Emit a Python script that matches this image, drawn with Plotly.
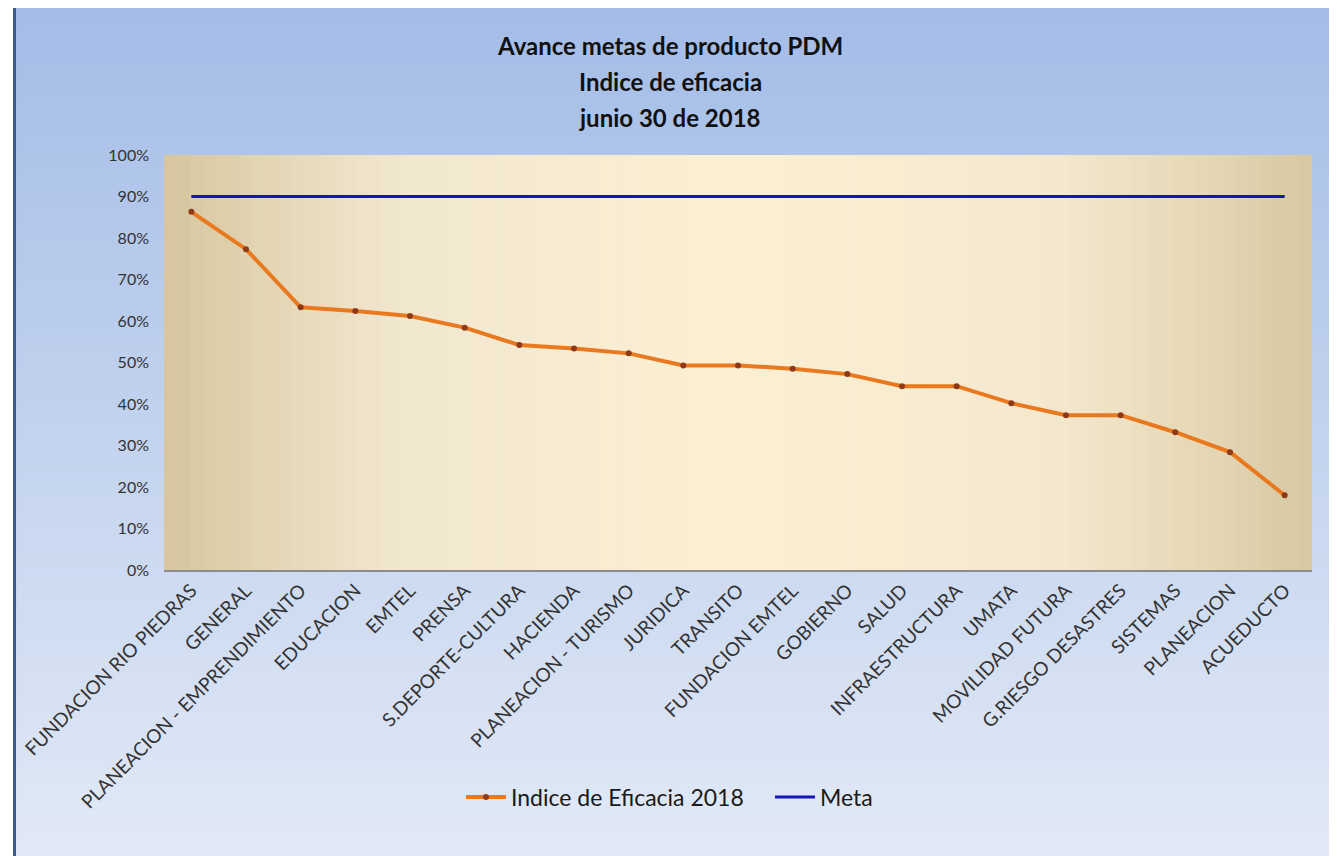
import plotly.graph_objects as go

# ---------------- data ----------------
categories = [
    "FUNDACION RIO PIEDRAS", "GENERAL", "PLANEACION - EMPRENDIMIENTO", "EDUCACION",
    "EMTEL", "PRENSA", "S.DEPORTE-CULTURA", "HACIENDA", "PLANEACION - TURISMO",
    "JURIDICA", "TRANSITO", "FUNDACION EMTEL", "GOBIERNO", "SALUD",
    "INFRAESTRUCTURA", "UMATA", "MOVILIDAD FUTURA", "G.RIESGO DESASTRES",
    "SISTEMAS", "PLANEACION", "ACUEDUCTO",
]
indice_eficacia_2018 = [
    0.863, 0.773, 0.633, 0.624, 0.612, 0.584, 0.542, 0.534, 0.522, 0.493,
    0.493, 0.485, 0.472, 0.443, 0.443, 0.402, 0.373, 0.373, 0.332, 0.284, 0.180,
]
meta = [
    0.90, 0.90, 0.90, 0.90, 0.90, 0.90, 0.90, 0.90, 0.90, 0.90,
    0.90, 0.90, 0.90, 0.90, 0.90, 0.90, 0.90, 0.90, 0.90, 0.90, 0.90,
]
title_lines = ["Avance metas de producto PDM", "Indice de eficacia", "junio 30 de 2018"]

# ---------------- geometry (screen pixels) ----------------
OFF = 8                      # page body margin
W, H = 1337 - OFF, 856 - OFF  # figure size so it ends at the window edge
L, R, T, B = 160, 1312, 155, 570   # plot area in screen pixels


def px(x):
    return (x - L) / (R - L)


def py(y):
    return (B - y) / (B - T)


def hex2rgb(h):
    h = h.lstrip("#")
    return tuple(int(h[i:i + 2], 16) for i in (0, 2, 4))


def lerp_color(stops, t):
    for (t0, c0), (t1, c1) in zip(stops[:-1], stops[1:]):
        if t0 <= t <= t1:
            f = 0 if t1 == t0 else (t - t0) / (t1 - t0)
            a, b = hex2rgb(c0), hex2rgb(c1)
            return "rgb(%d,%d,%d)" % tuple(round(a[i] + (b[i] - a[i]) * f) for i in range(3))
    return stops[-1][1]


shapes = []

# outer blue gradient background (vertical)
blue_stops = [(0.0, "#A3BCE7"), (0.5, "#C3D3EE"), (1.0, "#E3EAF6")]
top_px, bot_px, left_px, right_px = 6, 870, 11, 1332
n = 60
for i in range(n):
    y0 = top_px + (bot_px - top_px) * i / n
    y1 = top_px + (bot_px - top_px) * (i + 1) / n + 1
    c = lerp_color(blue_stops, (i + 0.5) / n)
    shapes.append(dict(type="rect", xref="paper", yref="paper", layer="below",
                       x0=px(left_px), x1=px(right_px), y0=py(y1), y1=py(y0),
                       fillcolor=c, line=dict(width=0)))

# plot-area tan gradient (horizontal)
tan_stops = [(0.0, "#D6C59E"), (0.08, "#E2D4B2"), (0.2, "#F1E7CF"), (0.5, "#FCEFD3"),
             (0.78, "#F3E8CF"), (0.9, "#E6D8B6"), (1.0, "#D7C8A2")]
m = 90
for i in range(m):
    x0 = L + (R - L) * i / m
    x1 = L + (R - L) * (i + 1) / m + 1
    c = lerp_color(tan_stops, (i + 0.5) / m)
    shapes.append(dict(type="rect", xref="paper", yref="paper", layer="below",
                       x0=px(x0), x1=px(min(x1, R)), y0=0, y1=1,
                       fillcolor=c, line=dict(width=0)))

# outer dark-blue frame
shapes.append(dict(type="rect", xref="paper", yref="paper", layer="above",
                   x0=px(10), x1=px(1333), y0=py(900), y1=py(5),
                   fillcolor="rgba(0,0,0,0)", line=dict(color="#3A5A8C", width=3)))

fig = go.Figure()
fig.add_trace(go.Scatter(
    x=categories, y=indice_eficacia_2018, name="Indice de Eficacia 2018",
    mode="lines+markers",
    line=dict(color="#E8791E", width=4),
    marker=dict(color="#8E3A17", size=6),
))
fig.add_trace(go.Scatter(
    x=categories, y=meta, name="Meta", mode="lines",
    line=dict(color="#1414B8", width=3),
))

annotations = []
for txt, yp in zip(title_lines, [45, 81, 117]):
    annotations.append(dict(text="<b>%s</b>" % txt, xref="paper", yref="paper",
                            x=px(668), y=py(yp), xanchor="center", yanchor="middle",
                            showarrow=False,
                            font=dict(family="Lato, Open Sans, sans-serif", size=24,
                                      color="#111111")))

fig.update_layout(
    width=W, height=H,
    margin=dict(l=L - OFF, r=W - (R - OFF), t=T - OFF, b=H - (B - OFF), pad=0),
    paper_bgcolor="white",
    plot_bgcolor="rgba(0,0,0,0)",
    shapes=shapes,
    annotations=annotations,
    font=dict(family="Lato, Open Sans, sans-serif", color="#222222"),
    showlegend=True,
    legend=dict(orientation="h", x=px(458), y=py(797), xanchor="left", yanchor="middle",
                bgcolor="rgba(0,0,0,0)", font=dict(size=23, color="#1A1A1A"),
                itemwidth=40, entrywidth=254, entrywidthmode="pixels"),
    xaxis=dict(type="category", range=[-0.5, len(categories) - 0.5],
               showgrid=False, showline=True, linecolor="#8C8C8C",
               linewidth=2, tickangle=-45, ticks="", ticklabelstandoff=0,
               tickfont=dict(size=19, color="#333333"), zeroline=False),
    yaxis=dict(range=[0, 1], dtick=0.1, tickformat=".0%", showgrid=False,
               showline=False, zeroline=False, ticks="", ticklabelstandoff=14,
               tickfont=dict(size=16, color="#333333")),
)

fig.write_html("out.html")
